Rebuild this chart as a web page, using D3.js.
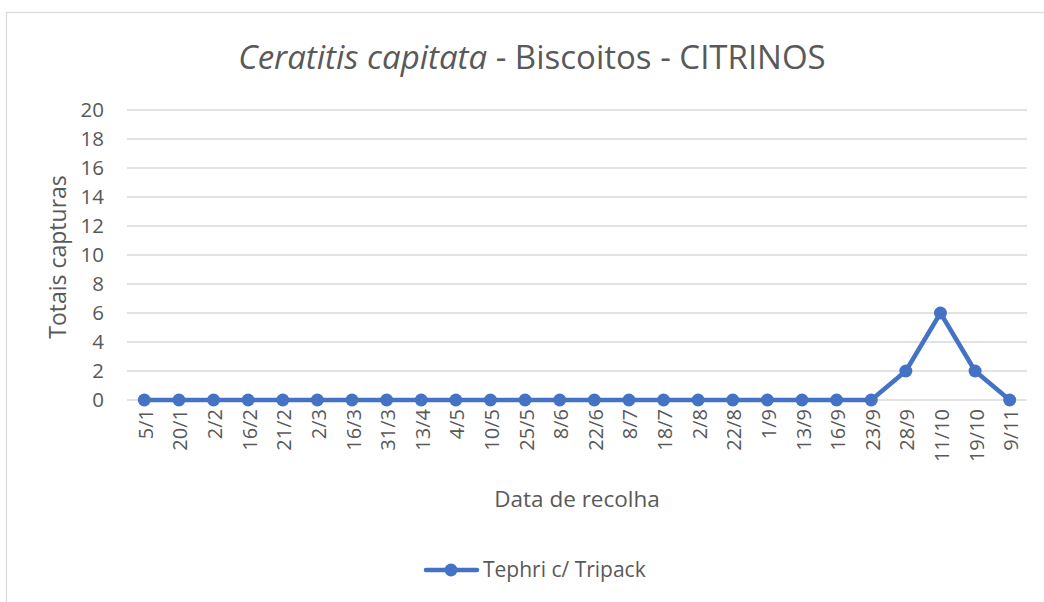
<!DOCTYPE html>
<html>
<head>
<meta charset="utf-8">
<script src="https://cdn.jsdelivr.net/npm/d3@7"></script>
<style>
  body { margin: 0; background: #fff; }
  text { font-family: "Open Sans", "Noto Sans", sans-serif; fill: #595959; }
</style>
</head>
<body>
<div id="chart"></div>
<script>
let dates = ["5/1","20/1","2/2","16/2","21/2","2/3","16/3","31/3","13/4","4/5","10/5","25/5","8/6",
             "22/6","8/7","18/7","2/8","22/8","1/9","13/9","16/9","23/9","28/9","11/10","19/10","9/11"];
let captures = [0,0,0,0,0,0,0,0,0,0,0,0,0,0,0,0,0,0,0,0,0,0,2,6,2,0];
let y_ticks = [0,2,4,6,8,10,12,14,16,18,20];
let series_name = "Tephri c/ Tripack";

let width = 1044;
let height = 602;
let line_color = "#4472c4";

let svg = d3.select("#chart").append("svg")
    .attr("width", width)
    .attr("height", height);

// chart border
svg.append("rect")
    .attr("x", 6.5).attr("y", 12.5)
    .attr("width", 1200).attr("height", 800)
    .attr("fill", "none")
    .attr("stroke", "#d9d9d9")
    .attr("stroke-width", 1.2);

let x = d3.scaleBand()
    .domain(dates)
    .range([127, 1027]);

let y = d3.scaleLinear()
    .domain([0, 20])
    .range([400, 110]);

// gridlines
svg.append("g")
    .selectAll("line")
    .data(y_ticks)
    .enter()
    .append("line")
    .attr("x1", 127).attr("x2", 1027)
    .attr("y1", d => y(d)).attr("y2", d => y(d))
    .attr("stroke", "#d9d9d9")
    .attr("stroke-width", 1.3);

// y axis labels
let y_axis = svg.append("g")
    .attr("transform", "translate(127,0)")
    .call(d3.axisLeft(y).tickValues(y_ticks).tickSize(0).tickPadding(23));
y_axis.select(".domain").remove();
y_axis.selectAll("text")
    .style("font-size", "20.5px")
    .attr("fill", "#595959");

// x axis labels, rotated
let x_axis = svg.append("g")
    .attr("transform", "translate(0,400)")
    .call(d3.axisBottom(x).tickSize(0));
x_axis.select(".domain").remove();
x_axis.selectAll("text")
    .style("font-size", "20px")
    .attr("fill", "#595959")
    .attr("text-anchor", "end")
    .attr("dy", null)
    .attr("transform", "translate(1,9) rotate(-90)")
    .attr("x", 0).attr("y", 0)
    .attr("dominant-baseline", "central");

// line
let line = d3.line()
    .x((d, i) => x(dates[i]) + x.bandwidth() / 2)
    .y(d => y(d));

svg.append("path")
    .datum(captures)
    .attr("d", line)
    .attr("fill", "none")
    .attr("stroke", line_color)
    .attr("stroke-width", 4.5)
    .attr("stroke-linejoin", "round");

svg.append("g")
    .selectAll("circle")
    .data(captures)
    .enter()
    .append("circle")
    .attr("cx", (d, i) => x(dates[i]) + x.bandwidth() / 2)
    .attr("cy", d => y(d))
    .attr("r", 6.5)
    .attr("fill", line_color);

// title
let title = svg.append("text")
    .attr("x", 532).attr("y", 69)
    .attr("text-anchor", "middle")
    .style("font-size", "33px");
title.append("tspan").style("font-style", "italic").text("Ceratitis capitata");
title.append("tspan").text(" - Biscoitos - CITRINOS");

// axis titles
svg.append("text")
    .attr("transform", "translate(66,257) rotate(-90)")
    .attr("text-anchor", "middle")
    .style("font-size", "23px")
    .text("Totais capturas");

svg.append("text")
    .attr("x", 577).attr("y", 507)
    .attr("text-anchor", "middle")
    .style("font-size", "22.5px")
    .text("Data de recolha");

// legend
let legend = svg.append("g");
legend.append("line")
    .attr("x1", 426).attr("x2", 477)
    .attr("y1", 570).attr("y2", 570)
    .attr("stroke", line_color)
    .attr("stroke-width", 4.5)
    .attr("stroke-linecap", "round");
legend.append("circle")
    .attr("cx", 451).attr("cy", 570).attr("r", 6.5)
    .attr("fill", line_color);
legend.append("text")
    .attr("x", 483).attr("y", 577)
    .style("font-size", "21px")
    .text(series_name);
</script>
</body>
</html>
